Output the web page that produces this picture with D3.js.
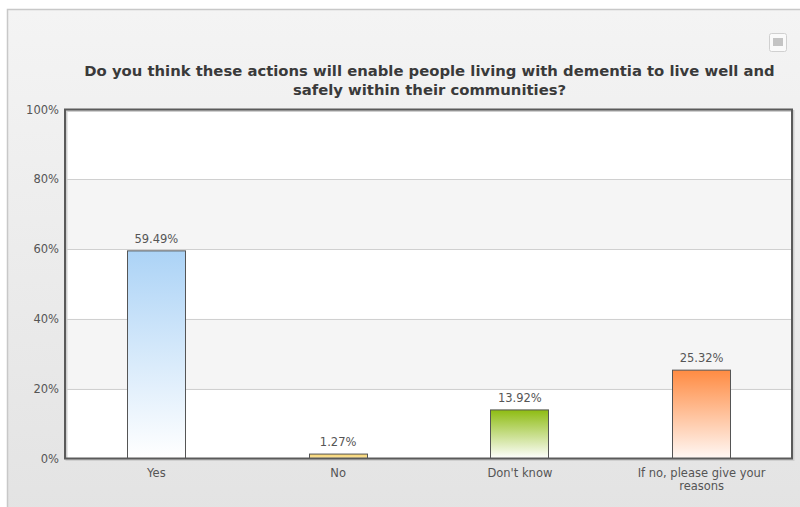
<!DOCTYPE html>
<html><head><meta charset="utf-8">
<script src="https://cdn.jsdelivr.net/npm/d3@7"></script>
<style>html,body{margin:0;padding:0;background:#fff;}svg{display:block;}</style>
</head><body>
<svg id="c" width="800" height="507"></svg>
<script>
const categories = ["Yes", "No", "Don't know", "If no, please give your reasons"];
const values = [59.49, 1.27, 13.92, 25.32];
const valueLabels = ["59.49%", "1.27%", "13.92%", "25.32%"];
const yTicks = [0, 20, 40, 60, 80, 100];
const titleLines = ["Do you think these actions will enable people living with dementia to live well and", "safely within their communities?"];
const barColors = [["#acd3f6", "#ffffff"], ["#f7d36a", "#fbe6a8"], ["#8ebc12", "#ffffff"], ["#ff8b42", "#fff8f5"]];

const svg = d3.select("#c");
const defs = svg.append("defs");
const bg = defs.append("linearGradient").attr("id", "bg").attr("x1", 0).attr("y1", 0).attr("x2", 0).attr("y2", 1);
bg.append("stop").attr("offset", "0%").attr("stop-color", "#f4f4f4");
bg.append("stop").attr("offset", "100%").attr("stop-color", "#e3e3e3");

svg.append("rect").attr("x", 7.5).attr("y", 9.5).attr("width", 800).attr("height", 510)
  .attr("fill", "url(#bg)").attr("stroke", "#c8c8c8").attr("stroke-width", 1.5);

// menu icon
svg.append("rect").attr("x", 769.5).attr("y", 33.5).attr("width", 17).attr("height", 18).attr("rx", 2)
  .attr("fill", "#fafafa").attr("stroke", "#d0d0d0");
svg.append("rect").attr("x", 773).attr("y", 38).attr("width", 10).attr("height", 8).attr("fill", "#c4c4c4");

const L = 65, R = 792, T = 109.5, B = 458.5;
const x = d3.scaleBand().domain(categories).range([L, R]).paddingInner(0).paddingOuter(0);
const y = d3.scaleLinear().domain([0, 100]).range([B, T]);

// title
const tg = svg.append("g");
const targetW = 691;
titleLines.forEach((t, i) => {
  tg.append("text").attr("x", 429.5).attr("y", 76 + i * 18.5).attr("text-anchor", "middle")
    .attr("font-family", "DejaVu Sans").attr("font-weight", "bold").attr("font-size", 13)
    .attr("fill", "#3a3a3a").text(t);
});
const w0 = tg.select("text").node().getComputedTextLength();
tg.selectAll("text").attr("font-size", 13 * targetW / w0);

// plot bands
const bands = d3.range(0, 100, 20);
svg.append("g").selectAll("rect").data(bands).join("rect")
  .attr("x", L).attr("width", R - L)
  .attr("y", d => y(d + 20)).attr("height", d => y(d) - y(d + 20))
  .attr("fill", (d, i) => i % 2 === 1 ? "#f5f5f5" : "#ffffff");

// gridlines
svg.append("g").selectAll("line").data(yTicks.filter(d => d > 0 && d < 100)).join("line")
  .attr("x1", L).attr("x2", R).attr("y1", d => Math.round(y(d)) + 0.5).attr("y2", d => Math.round(y(d)) + 0.5)
  .attr("stroke", "#d0d0d0").attr("stroke-width", 1);

// shadow of plot border
svg.append("rect").attr("x", L + 1.5).attr("y", T + 1.5).attr("width", R - L).attr("height", B - T)
  .attr("fill", "none").attr("stroke", "#cfcfcf").attr("stroke-width", 2);

// bars
categories.forEach((c, i) => {
  const g = defs.append("linearGradient").attr("id", "g" + i).attr("x1", 0).attr("y1", 0).attr("x2", 0).attr("y2", 1);
  g.append("stop").attr("offset", "0%").attr("stop-color", barColors[i][0]);
  g.append("stop").attr("offset", "100%").attr("stop-color", barColors[i][1]);
});
const bw = 58;
svg.append("g").selectAll("rect").data(values).join("rect")
  .attr("x", (d, i) => Math.round(x(categories[i]) + x.bandwidth() / 2 - bw / 2) + 0.5)
  .attr("y", d => y(d))
  .attr("width", bw).attr("height", d => B - y(d))
  .attr("fill", (d, i) => `url(#g${i})`).attr("stroke", "#555").attr("stroke-width", 1);

// value labels
svg.append("g").selectAll("text").data(values).join("text")
  .attr("x", (d, i) => x(categories[i]) + x.bandwidth() / 2 + 0.5)
  .attr("y", d => y(d) - 8)
  .attr("text-anchor", "middle").attr("font-family", "DejaVu Sans").attr("font-size", 11.5)
  .attr("fill", "#555").text((d, i) => valueLabels[i]);

// plot border
svg.append("rect").attr("x", L).attr("y", T).attr("width", R - L).attr("height", B - T)
  .attr("fill", "none").attr("stroke", "#5a5a5a").attr("stroke-width", 2);

// y axis
const ya = svg.append("g").attr("transform", `translate(${L},0)`)
  .call(d3.axisLeft(y).tickValues(yTicks).tickFormat(d => d + "%").tickSize(0).tickPadding(6));
ya.select(".domain").remove();
ya.selectAll("text").attr("font-family", "DejaVu Sans").attr("font-size", 11.5).attr("fill", "#555");

// x axis
const xa = svg.append("g").attr("transform", `translate(0,${B})`)
  .call(d3.axisBottom(x).tickSize(0).tickPadding(0));
xa.select(".domain").remove();
xa.selectAll("text").each(function(d) {
  const t = d3.select(this);
  t.text(null).attr("y", 0).attr("dy", null);
  const words = d.split(" ");
  let lines = [], cur = "";
  words.forEach(w => {
    const test = cur ? cur + " " + w : w;
    if (test.length > 23) { lines.push(cur); cur = w; } else cur = test;
  });
  lines.push(cur);
  lines.forEach((ln, i) => t.append("tspan").attr("x", 0.5).attr("y", 18 + i * 13.5).text(ln));
}).attr("font-family", "DejaVu Sans").attr("font-size", 11.5).attr("fill", "#555");
</script>
</body></html>
